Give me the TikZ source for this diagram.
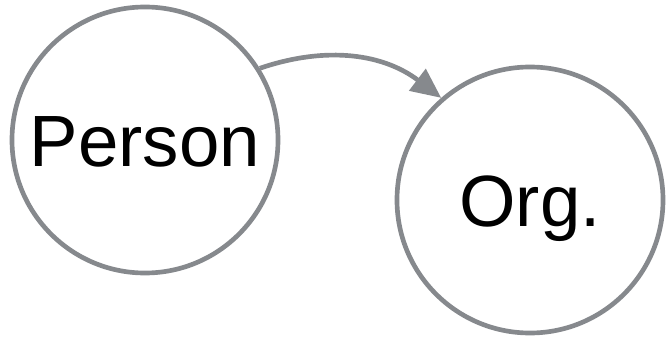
\documentclass[tikz,border=0pt]{standalone}
\usepackage{fontspec}
\setmainfont{Liberation Sans}
\usetikzlibrary{arrows.meta}
\definecolor{edgegrey}{RGB}{134,137,141}

\begin{document}
\begin{tikzpicture}[x=0.03cm, y=-0.03cm, line width=0.14cm,
    node_style/.style={circle, draw=edgegrey, inner sep=0pt, minimum size=7.98cm,
        font=\fontsize{62}{62}\selectfont, text height=45pt, text depth=0pt},
    edge_style/.style={draw=edgegrey, -{Triangle[length=0.9cm, width=0.8cm]}}]

    \useasboundingbox (0,0) rectangle (666,338);
    \node[node_style] (person) at (145,140) {Person};
    \node[node_style] (org) at (530,200) {Org.};
    \draw[edge_style] (person.32) to[bend left=28] (org.131);
\end{tikzpicture}
\end{document}
